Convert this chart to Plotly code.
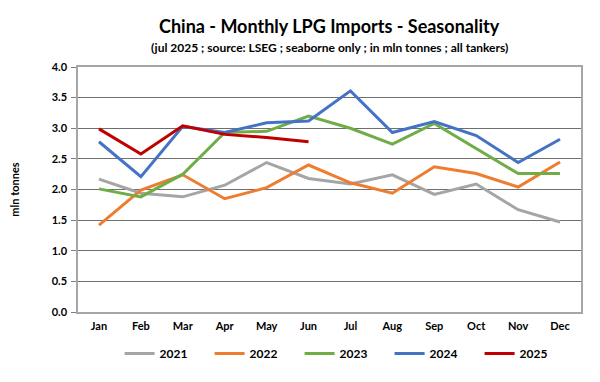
import plotly.graph_objects as go

months = ["Jan", "Feb", "Mar", "Apr", "May", "Jun", "Jul", "Aug", "Sep", "Oct", "Nov", "Dec"]
y2021 = [2.17, 1.94, 1.88, 2.07, 2.44, 2.18, 2.09, 2.24, 1.92, 2.09, 1.67, 1.47]
y2022 = [1.42, 1.99, 2.24, 1.85, 2.03, 2.40, 2.11, 1.94, 2.37, 2.26, 2.04, 2.45]
y2023 = [2.01, 1.88, 2.25, 2.93, 2.95, 3.20, 3.00, 2.74, 3.08, 2.67, 2.26, 2.26]
y2024 = [2.78, 2.21, 3.03, 2.93, 3.09, 3.12, 3.61, 2.93, 3.11, 2.88, 2.44, 2.82]
y2025 = [2.99, 2.58, 3.04, 2.90, 2.85, 2.78]

series = [
    ("2021", y2021, "#A5A5A5"),
    ("2022", y2022, "#ED7D31"),
    ("2023", y2023, "#70AD47"),
    ("2024", y2024, "#4472C4"),
    ("2025", y2025, "#C00000"),
]

fig = go.Figure()
for name, vals, color in series:
    fig.add_trace(go.Scatter(
        x=months[:len(vals)], y=vals, name=name, mode="lines",
        line=dict(color=color, width=3),
    ))

font_fam = "Lato, Open Sans, sans-serif"
# page body has an 8px default margin, so figure is sized/offset to compensate
fig.update_layout(
    width=584, height=366,
    margin=dict(l=70, r=11, t=59, b=62, autoexpand=False),
    paper_bgcolor="white", plot_bgcolor="white",
    font=dict(family=font_fam, color="#000000"),
    showlegend=True,
    legend=dict(
        orientation="h", x=0.53, xanchor="center", y=-0.11, yanchor="top",
        font=dict(size=12, family=font_fam, weight="bold"),
        itemwidth=30, entrywidth=45, tracegroupgap=0,
    ),
)
fig.add_annotation(text="<b>China - Monthly LPG Imports - Seasonality</b>",
                   xref="paper", yref="paper", x=0.5, y=1.0, yshift=41,
                   showarrow=False, font=dict(size=18, family=font_fam), xanchor="center", yanchor="middle")
fig.add_annotation(text="<b>(jul 2025 ; source: LSEG ; seaborne only ; in mln tonnes ; all tankers)</b>",
                   xref="paper", yref="paper", x=0.5, y=1.0, yshift=20,
                   showarrow=False, font=dict(size=12, family=font_fam), xanchor="center", yanchor="middle")

fig.update_xaxes(
    type="category", categoryorder="array", categoryarray=months,
    range=[-0.5, 11.5], showgrid=False,
    showline=True, linecolor="#A6A6A6", linewidth=1.5, mirror=True,
    ticks="", tickfont=dict(size=11, family=font_fam, weight="bold"),
    ticklabelstandoff=3,
)
fig.update_yaxes(
    range=[0, 4.0], dtick=0.5, tickformat=".1f",
    showgrid=True, gridcolor="#6F6F6F", gridwidth=1,
    showline=True, linecolor="#A6A6A6", linewidth=1.5, mirror=True,
    ticks="outside", ticklen=5, tickcolor="#7F7F7F",
    tickfont=dict(size=11, family=font_fam, weight="bold"),
    ticklabelstandoff=2,
    zeroline=False,
    title=dict(text="<b>mln tonnes</b>", font=dict(size=11, family=font_fam), standoff=32),
)

fig.write_html("out.html")
